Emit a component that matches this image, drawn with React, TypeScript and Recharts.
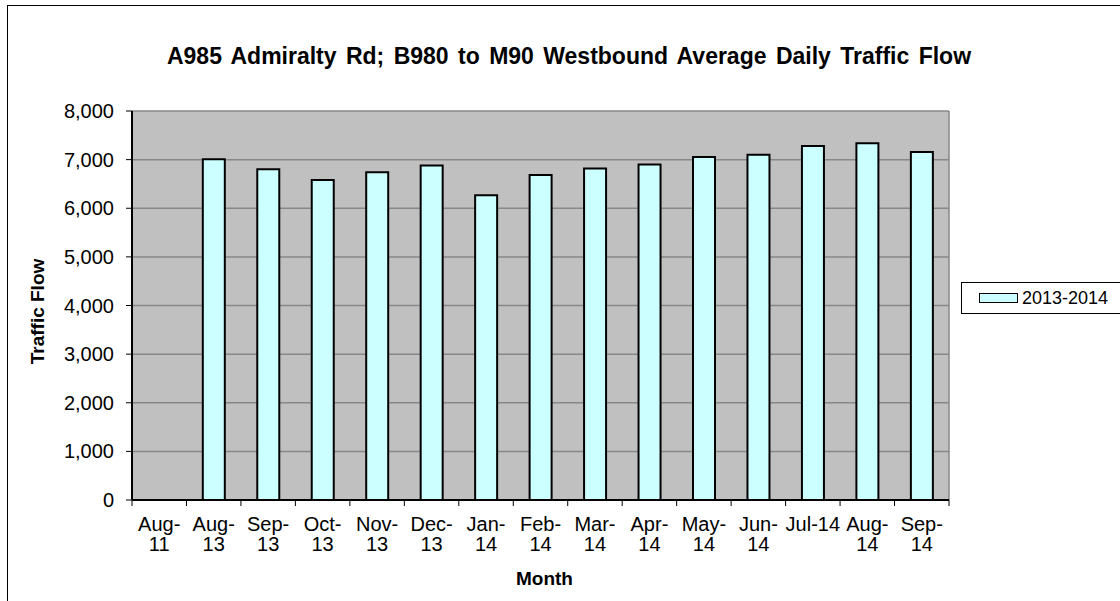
import { BarChart, Bar, XAxis, YAxis, CartesianGrid, Legend, Label } from 'recharts'

// ---------------------------------------------------------------------------
// Data
// ---------------------------------------------------------------------------

const months = [
  'Aug-11', 'Aug-13', 'Sep-13', 'Oct-13', 'Nov-13', 'Dec-13', 'Jan-14', 'Feb-14',
  'Mar-14', 'Apr-14', 'May-14', 'Jun-14', 'Jul-14', 'Aug-14', 'Sep-14',
]

// 2013-2014 average daily flow; Aug-11 has no bar
const flow2013_14: (number | null)[] = [
  null, 7010, 6800, 6580, 6740, 6880, 6265, 6685, 6815, 6900, 7055, 7100, 7280, 7335, 7155,
]

const yTicks = [0, 1000, 2000, 3000, 4000, 5000, 6000, 7000, 8000]

const SERIES_NAME = '2013-2014'

const data = months.map((month, i) => ({ month, flow: flow2013_14[i] }))

// ---------------------------------------------------------------------------
// Look
// ---------------------------------------------------------------------------

const FONT = "'Liberation Sans', Arial, sans-serif"
const BAR_FILL = '#CCFFFF'
const PLOT_BG = '#C0C0C0'
const GRID = '#888888'

const W = 1120
const H = 601
const MARGIN = { top: 111, right: 171, bottom: 0, left: 0 }
const Y_AXIS_W = 132
const X_AXIS_H = 101

let measureCtx: CanvasRenderingContext2D | null = null
function textWidth(s: string, font: string): number {
  if (!measureCtx) measureCtx = document.createElement('canvas').getContext('2d')
  if (!measureCtx) return s.length * 10
  measureCtx.font = font
  return measureCtx.measureText(s).width
}

// Excel-style wrapped category label with tick marks between categories
function MonthTick(props: any) {
  const { x, y, payload, index, visibleTicksCount } = props
  const label: string = payload.value
  const plotW = W - MARGIN.right - Y_AXIS_W
  const half = payload.offset || plotW / months.length / 2
  const wide = textWidth(label, `20px ${FONT}`) > 57
  const cut = label.indexOf('-') + 1
  const lines = wide ? [label.slice(0, cut), label.slice(cut)] : [label]
  const last = index === (visibleTicksCount ?? months.length) - 1
  return (
    <g>
      <line x1={x - half} x2={x - half} y1={y} y2={y + 6} stroke="#000" strokeWidth={1} />
      {last && <line x1={x + half} x2={x + half} y1={y} y2={y + 6} stroke="#000" strokeWidth={1} />}
      <text x={x} y={y + 31} textAnchor="middle" fontSize={20} fontFamily={FONT} fill="#000">
        {lines.map((l, i) => (
          <tspan key={i} x={x} dy={i === 0 ? 0 : 20}>{l}</tspan>
        ))}
      </text>
    </g>
  )
}

function SeriesLegend() {
  return (
    <div
      style={{
        border: '1px solid #000',
        background: '#fff',
        width: 170,
        height: 32,
        display: 'flex',
        alignItems: 'center',
        boxSizing: 'border-box',
        paddingLeft: 17,
        fontFamily: FONT,
        fontSize: 18,
        color: '#000',
      }}
    >
      <span
        style={{
          display: 'inline-block',
          width: 37,
          height: 8,
          background: BAR_FILL,
          border: '1px solid #000',
          marginRight: 4,
        }}
      />
      {SERIES_NAME}
    </div>
  )
}

export default function App() {
  return (
    <div
      style={{
        position: 'fixed',
        left: 0,
        top: 0,
        width: W,
        height: H,
        overflow: 'hidden',
        background: '#fff',
      }}
    >
      {/* chart frame, right and bottom edges run off the picture */}
      <div
        style={{
          position: 'absolute',
          left: 7,
          top: 5,
          width: 1300,
          height: 800,
          border: '1px solid #000',
        }}
      />
      <div
        style={{
          position: 'absolute',
          left: 0,
          top: 43,
          width: 1138,
          textAlign: 'center',
          fontFamily: FONT,
          fontWeight: 'bold',
          fontSize: 23,
          wordSpacing: 3,
          color: '#000',
          whiteSpace: 'nowrap',
        }}
      >
        A985 Admiralty Rd; B980 to M90 Westbound Average Daily Traffic Flow
      </div>
      <div style={{ position: 'absolute', left: 0, top: 0 }}>
        <BarChart width={W} height={H} data={data} margin={MARGIN} barCategoryGap="30%">
          <CartesianGrid
            fill={PLOT_BG}
            fillOpacity={1}
            stroke={GRID}
            strokeWidth={1.5}
            vertical
            verticalCoordinatesGenerator={({ offset }: any) => [offset.left + offset.width]}
          />
          <XAxis
            dataKey="month"
            height={X_AXIS_H}
            interval={0}
            tickLine={false}
            tickSize={0}
            tickMargin={0}
            axisLine={{ stroke: '#000', strokeWidth: 2 }}
            tick={<MonthTick />}
          >
            <Label
              content={({ viewBox }: any) => (
                <text
                  x={viewBox.x + viewBox.width / 2 + 4}
                  y={viewBox.y + 85}
                  textAnchor="middle"
                  fontFamily={FONT}
                  fontWeight="bold"
                  fontSize={19}
                  fill="#000"
                >
                  Month
                </text>
              )}
            />
          </XAxis>
          <YAxis
            width={Y_AXIS_W}
            domain={[0, 8000]}
            ticks={yTicks}
            interval={0}
            tickFormatter={(v: number) => v.toLocaleString('en-US')}
            tick={{ fontSize: 20, fontFamily: FONT, fill: '#000' }}
            tickSize={6}
            tickMargin={12}
            tickLine={{ stroke: '#000' }}
            axisLine={{ stroke: '#000', strokeWidth: 2 }}
          >
            <Label
              content={({ viewBox }: any) => {
                const cx = viewBox.x + 37
                const cy = viewBox.y + viewBox.height / 2 + 6
                return (
                  <text
                    x={cx}
                    y={cy}
                    transform={`rotate(-90 ${cx} ${cy})`}
                    textAnchor="middle"
                    dominantBaseline="central"
                    fontFamily={FONT}
                    fontWeight="bold"
                    fontSize={19}
                    fill="#000"
                  >
                    Traffic Flow
                  </text>
                )
              }}
            />
          </YAxis>
          <Legend
            layout="horizontal"
            verticalAlign="middle"
            align="center"
            content={<SeriesLegend />}
            wrapperStyle={{ left: 961, top: 282, width: 170, height: 34 }}
          />
          <Bar
            dataKey="flow"
            name={SERIES_NAME}
            fill={BAR_FILL}
            stroke="#000"
            strokeWidth={2}
            isAnimationActive={false}
          />
        </BarChart>
      </div>
    </div>
  )
}
